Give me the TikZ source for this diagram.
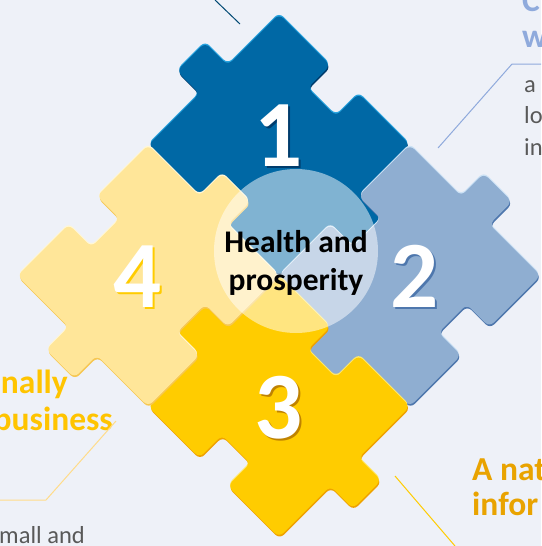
\documentclass[tikz,border=0pt]{standalone}
\usepackage{fontspec}
\setmainfont{Carlito}
\definecolor{bg}{HTML}{EEF1F8}
\definecolor{pA}{HTML}{0068A5}\definecolor{pAl}{HTML}{27A2DE}\definecolor{pAd}{HTML}{003C6C}
\definecolor{pB}{HTML}{8FAED1}\definecolor{pBl}{HTML}{CCE2F5}\definecolor{pBd}{HTML}{4E77AD}
\definecolor{pC}{HTML}{FFCC00}\definecolor{pCl}{HTML}{FFE86A}\definecolor{pCd}{HTML}{EFA200}
\definecolor{pD}{HTML}{FFE699}\definecolor{pDl}{HTML}{FFF7D6}\definecolor{pDd}{HTML}{F6C752}
\definecolor{grytxt}{HTML}{595959}
\definecolor{bluetitle}{HTML}{8FAADC}
\definecolor{orangetitle}{HTML}{E9A300}
\definecolor{yellowtitle}{HTML}{FFC400}
\newcommand\piecepath[4]{%
 (0,0) -- (72.5,0) -- (72.5,{-32*#1}) -- (112.5,{-32*#1}) -- (112.5,0) -- (185,0)
 -- (185,72.5) -- ({185+32*#2},72.5) -- ({185+32*#2},112.5) -- (185,112.5) -- (185,185)
 -- (112.5,185) -- (112.5,{185+32*#3}) -- (72.5,{185+32*#3}) -- (72.5,185) -- (0,185)
 -- (0,112.5) -- ({-32*#4},112.5) -- ({-32*#4},72.5) -- (0,72.5) -- cycle}
\tikzset{
 numtxt/.style={font=\fontsize{95}{95}\selectfont\bfseries, inner sep=0pt},
 title/.style={font=\fontsize{33.5}{36}\selectfont\bfseries, inner sep=0pt},
 body/.style={font=\fontsize{24.5}{31}\selectfont, text=grytxt, inner sep=0pt},
 leader/.style={line width=1pt},
 piecefill/.style={rounded corners=6pt}
}
\begin{document}
\begin{tikzpicture}[x=1pt,y=-1pt]
\useasboundingbox (0,0) rectangle (541,546);
\fill[bg] (0,0) rectangle (541,546);
\clip (0,0) rectangle (541,546);
% puzzle pieces
\begin{scope}[shift={(279pt,-14pt)}, x={(0.7071pt,-0.7071pt)}, y={(-0.7071pt,-0.7071pt)}]
 \foreach \U/\V/\a/\b/\c/\d/\main/\lite/\dark in
  {0/0/-1/1/-1/1/pA/pAl/pAd,
   185/0/1/-1/1/-1/pB/pBl/pBd,
   185/185/-1/1/-1/1/pC/pCl/pCd,
   0/185/1/-1/1/-1/pD/pDl/pDd}{
  \begin{scope}[shift={(\U,\V)}]
   \fill[\dark, piecefill, xshift=0.6pt, yshift=-1.7pt] \piecepath{\a}{\b}{\c}{\d};
   \fill[\lite, piecefill, yshift=1.5pt] \piecepath{\a}{\b}{\c}{\d};
   \fill[\main, piecefill] \piecepath{\a}{\b}{\c}{\d};
  \end{scope}
 }
\end{scope}
% numbers
\node[numtxt, text=pAd] at (281,138) {1};
\node[numtxt, text=white] (n1) at (279,136) {1};
\node[numtxt, text=pBd] at (417,278) {2};
\node[numtxt, text=white] (n2) at (415,276) {2};
\node[numtxt, text=pCd!80!black] at (281,410) {3};
\node[numtxt, text=white] (n3) at (279,408) {3};
\node[numtxt, text=pC] at (140,279) {4};
\node[numtxt, text=white] (n4) at (138,277) {4};
% hub
\node[circle, fill=white, fill opacity=0.5, minimum size=164pt, inner sep=0pt] (hub) at (296,251) {};
\node[font=\fontsize{31.5}{38}\selectfont\bfseries, align=center, inner sep=0pt] (hubtxt) at (296,262.5) {Health and\\prosperity};
% side texts
\node[title, text=bluetitle, anchor=base west] (t1a) at (522,12) {C};
\node[title, text=bluetitle, anchor=base west] (t1b) at (522,47) {w};
\node[body, anchor=base west] (b1a) at (524,92) {a};
\node[body, anchor=base west] (b1b) at (524,123) {lo};
\node[body, anchor=base west] (b1c) at (524,155) {in};
\node[title, text=yellowtitle, anchor=base east] (t4a) at (68,393) {nally};
\node[title, text=yellowtitle, anchor=base east] (t4b) at (113,430) {business};
\node[body, anchor=base west] (b4a) at (-1,543) {mall and};
\node[title, text=orangetitle, anchor=base west] (t3a) at (472,480) {A nat};
\node[title, text=orangetitle, anchor=base west] (t3b) at (472,515) {infor};
% leader lines
\coordinate (l0a) at (215,0); \coordinate (l0b) at (240,24);
\draw[leader, color=pA!70!black] (l0a) -- (l0b);
\coordinate (l1a) at (438,148); \coordinate (l1b) at (512,64); \coordinate (l1c) at (541,64);
\draw[leader, color=bluetitle] (l1a) -- (l1b) -- (l1c);
\coordinate (l4a) at (0,500); \coordinate (l4b) at (46,500); \coordinate (l4c) at (116,421);
\draw[leader, color=pD!90!orange] (l4a) -- (l4b) -- (l4c);
\coordinate (l3a) at (395,476); \coordinate (l3b) at (455,546);
\draw[leader, color=pC] (l3a) -- (l3b);
\end{tikzpicture}
\end{document}
